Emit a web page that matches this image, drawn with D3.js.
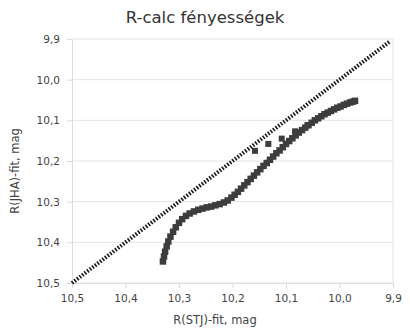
<!DOCTYPE html>
<html><head><meta charset="utf-8">
<script src="https://cdn.jsdelivr.net/npm/d3@7"></script>
<style>body{margin:0;background:#fff;}svg{display:block;font-family:"DejaVu Sans",Verdana,sans-serif;}</style>
</head><body><svg id="c" width="410" height="330"></svg>
<script>
const title = "R-calc fényességek";
const xTitle = "R(STJ)-fit, mag";
const yTitle = "R(JHA)-fit, mag";
const tickValues = [10.5, 10.4, 10.3, 10.2, 10.1, 10.0, 9.9];
const diagX = [10.5, 9.905];
const diagY = [10.5, 9.905];
const curveX = [10.330,10.328,10.326,10.323,10.320,10.316,10.311,10.306,10.300,10.294,10.287,10.280,10.272,10.264,10.256,10.248,10.240,10.232,10.224,10.216,10.209,10.202,10.196,10.190,10.184,10.178,10.172,10.166,10.160,10.154,10.148,10.142,10.136,10.130,10.124,10.118,10.112,10.106,10.100,10.094,10.088,10.082,10.076,10.070,10.064,10.058,10.052,10.046,10.040,10.034,10.028,10.022,10.016,10.010,10.004,9.998,9.992,9.986,9.980,9.975,9.971];
const curveY = [10.447,10.435,10.423,10.410,10.398,10.386,10.374,10.363,10.352,10.343,10.335,10.329,10.324,10.320,10.317,10.314,10.312,10.309,10.306,10.302,10.297,10.290,10.283,10.276,10.268,10.260,10.252,10.244,10.236,10.228,10.220,10.212,10.205,10.197,10.189,10.181,10.174,10.166,10.158,10.151,10.144,10.137,10.130,10.124,10.118,10.112,10.106,10.100,10.095,10.090,10.085,10.081,10.077,10.073,10.069,10.066,10.062,10.059,10.056,10.054,10.052];
const outX = [10.158, 10.133, 10.108, 10.083, 10.060];
const outY = [10.175, 10.158, 10.145, 10.127, 10.112];

const svg = d3.select("#c");
const L = 72, R = 393, T = 39, B = 283;
const x = d3.scaleLinear().domain([10.5, 9.9]).range([L, R]);
const y = d3.scaleLinear().domain([9.9, 10.5]).range([T, B]);
const fmt = d => d3.format(".1f")(d).replace(".", ",");

// grid
svg.append("g").selectAll("line").data(tickValues).join("line")
  .attr("x1", L).attr("x2", R).attr("y1", d => y(d)).attr("y2", d => y(d))
  .attr("stroke", "#e3e3e3").attr("stroke-width", 1);
svg.append("line").attr("x1", R).attr("x2", R).attr("y1", T).attr("y2", B).attr("stroke", "#e3e3e3");

// axes
const xAxis = svg.append("g").attr("transform", `translate(0,${B})`)
  .call(d3.axisBottom(x).tickValues(tickValues).tickFormat(fmt).tickSize(5).tickPadding(7));
const yAxis = svg.append("g").attr("transform", `translate(${L},0)`)
  .call(d3.axisLeft(y).tickValues(tickValues).tickFormat(fmt).tickSize(5).tickPadding(7));
[xAxis, yAxis].forEach(a => {
  a.select(".domain").attr("stroke", "#dcdcdc");
  a.selectAll(".tick line").attr("stroke", "#dcdcdc");
  a.selectAll(".tick text").attr("fill", "#444").attr("font-size", 10.5).attr("font-family", "DejaVu Sans, sans-serif");
});

// diagonal dotted line
svg.append("line")
  .attr("x1", x(diagX[0])).attr("y1", y(diagY[0]))
  .attr("x2", x(diagX[1])).attr("y2", y(diagY[1]))
  .attr("stroke", "#1a1a1a").attr("stroke-width", 4).attr("stroke-dasharray", "1.6,1.6");

// curve markers
const s = 6.5;
svg.append("g").selectAll("rect").data(curveX.map((d, i) => [d, curveY[i]])).join("rect")
  .attr("x", d => x(d[0]) - s / 2).attr("y", d => y(d[1]) - s / 2)
  .attr("width", s).attr("height", s).attr("fill", "#3d3d3d");
const s2 = 6;
svg.append("g").selectAll("rect").data(outX.map((d, i) => [d, outY[i]])).join("rect")
  .attr("x", d => x(d[0]) - s2 / 2).attr("y", d => y(d[1]) - s2 / 2)
  .attr("width", s2).attr("height", s2).attr("fill", "#3d3d3d");

// titles
svg.append("text").attr("x", 205).attr("y", 23).attr("text-anchor", "middle")
  .attr("font-size", 16.5).attr("fill", "#333").text(title);
svg.append("text").attr("x", 215).attr("y", 324).attr("text-anchor", "middle")
  .attr("font-size", 11.5).attr("fill", "#444").text(xTitle);
svg.append("text").attr("transform", "translate(19,171) rotate(-90)").attr("text-anchor", "middle")
  .attr("font-size", 11.5).attr("fill", "#444").text(yTitle);
</script></body></html>
